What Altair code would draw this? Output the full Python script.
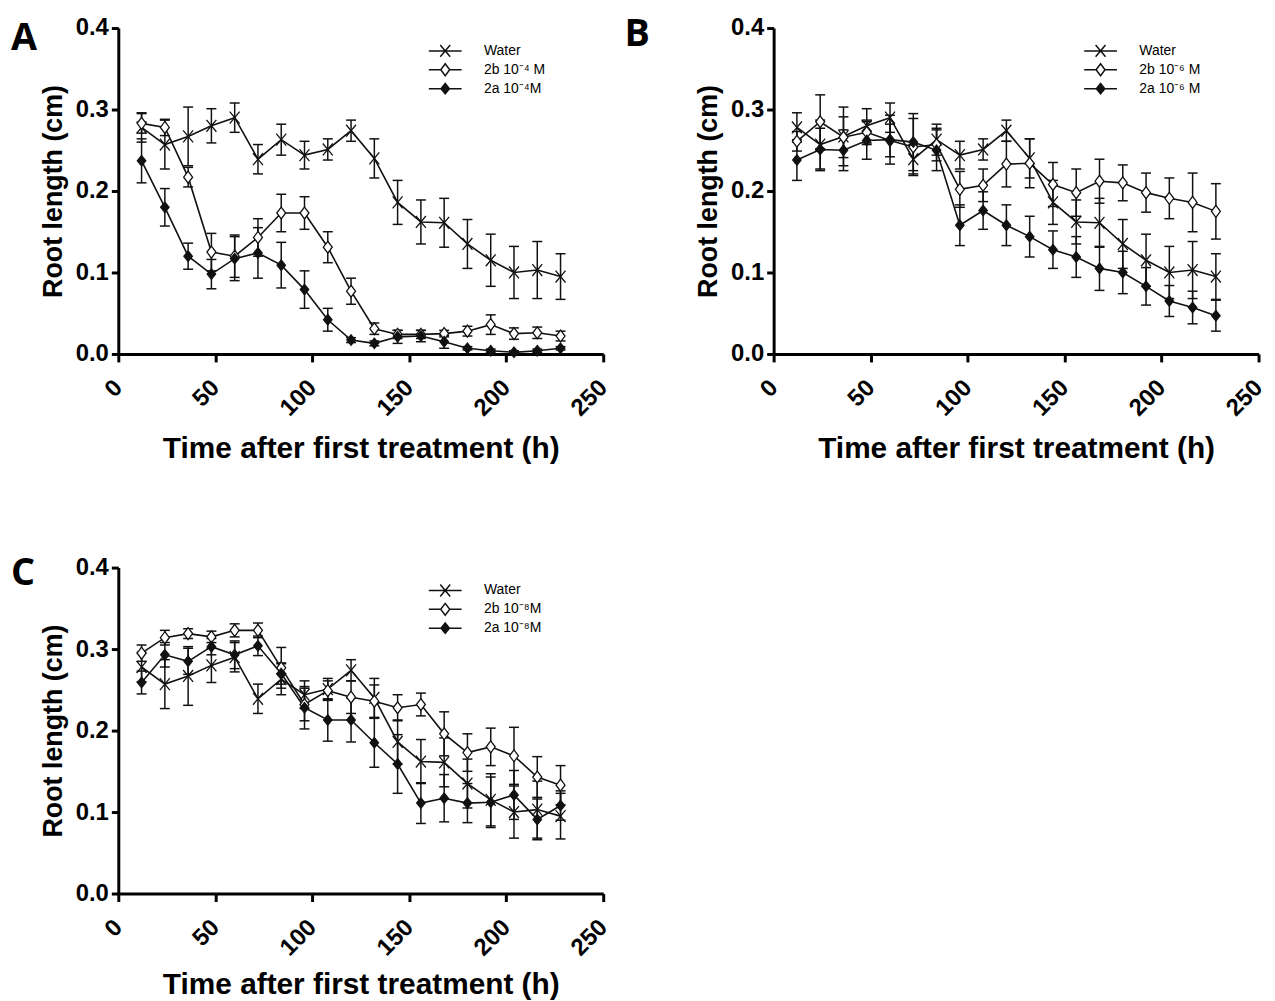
import altair as alt
import pandas as pd

# ---------------- data ----------------
hours = [12, 24, 36, 48, 60, 72, 84, 96, 108, 120, 132, 144, 156, 168, 180, 192, 204, 216, 228]

water_mean = [0.278, 0.257, 0.267, 0.280, 0.290, 0.239, 0.263, 0.244, 0.251, 0.274,
              0.240, 0.186, 0.162, 0.161, 0.135, 0.115, 0.100, 0.103, 0.095]
water_sem = [0.018, 0.030, 0.036, 0.021, 0.018, 0.018, 0.019, 0.017, 0.013, 0.013,
             0.024, 0.027, 0.027, 0.030, 0.030, 0.032, 0.032, 0.035, 0.028]

a_2b_mean = [0.283, 0.278, 0.217, 0.125, 0.120, 0.143, 0.173, 0.173, 0.131, 0.077,
             0.031, 0.024, 0.024, 0.025, 0.028, 0.036, 0.025, 0.026, 0.022]
a_2b_sem = [0.012, 0.010, 0.012, 0.023, 0.026, 0.023, 0.023, 0.020, 0.019, 0.016,
            0.007, 0.005, 0.005, 0.004, 0.006, 0.012, 0.007, 0.007, 0.006]
a_2a_mean = [0.237, 0.180, 0.120, 0.098, 0.117, 0.124, 0.109, 0.079, 0.042, 0.017,
             0.013, 0.021, 0.022, 0.015, 0.007, 0.004, 0.002, 0.004, 0.007]
a_2a_sem = [0.027, 0.023, 0.016, 0.018, 0.027, 0.031, 0.028, 0.023, 0.014, 0.003,
            0.003, 0.008, 0.007, 0.008, 0.002, 0.002, 0.002, 0.002, 0.002]

b_2b_mean = [0.261, 0.285, 0.266, 0.272, 0.262, 0.254, 0.257, 0.202, 0.207, 0.233,
             0.234, 0.208, 0.198, 0.212, 0.210, 0.198, 0.191, 0.186, 0.175]
b_2b_sem = [0.012, 0.033, 0.025, 0.015, 0.020, 0.035, 0.020, 0.022, 0.020, 0.028,
            0.030, 0.027, 0.029, 0.027, 0.022, 0.024, 0.025, 0.036, 0.034]
b_2a_mean = [0.238, 0.251, 0.250, 0.262, 0.263, 0.260, 0.250, 0.158, 0.176, 0.158,
             0.144, 0.128, 0.119, 0.105, 0.100, 0.083, 0.065, 0.057, 0.047]
b_2a_sem = [0.025, 0.026, 0.025, 0.023, 0.030, 0.035, 0.025, 0.025, 0.023, 0.025,
            0.025, 0.023, 0.025, 0.027, 0.026, 0.023, 0.019, 0.020, 0.019]

c_2b_mean = [0.295, 0.314, 0.319, 0.315, 0.323, 0.323, 0.277, 0.232, 0.249, 0.241,
             0.236, 0.228, 0.232, 0.196, 0.173, 0.180, 0.169, 0.143, 0.133]
c_2b_sem = [0.010, 0.009, 0.006, 0.007, 0.008, 0.009, 0.025, 0.020, 0.012, 0.020,
            0.020, 0.016, 0.014, 0.027, 0.023, 0.023, 0.035, 0.025, 0.024]
c_2a_mean = [0.259, 0.293, 0.285, 0.303, 0.293, 0.304, 0.270, 0.228, 0.213, 0.213,
             0.185, 0.159, 0.111, 0.117, 0.111, 0.112, 0.121, 0.091, 0.108]
c_2a_sem = [0.014, 0.015, 0.016, 0.010, 0.017, 0.012, 0.013, 0.026, 0.026, 0.027,
            0.030, 0.036, 0.025, 0.029, 0.024, 0.031, 0.030, 0.025, 0.018]

labels_a = ["Water", "2b 10\u207b\u2074 M", "2a 10\u207b\u2074M"]
labels_b = ["Water", "2b 10\u207b\u2076 M", "2a 10\u207b\u2076 M"]
labels_c = ["Water", "2b 10\u207b\u2078M", "2a 10\u207b\u2078M"]

x_ticks = [0, 50, 100, 150, 200, 250]
y_ticks = [0.0, 0.1, 0.2, 0.3, 0.4]

# ---------------- styling ----------------
INK = "#111111"
CROSS = "M-1,-1.2L1,1.2M-1,1.2L1,-1.2"
DIAMOND_OPEN = "M0,-1.2L0.9,0L0,1.2L-0.9,0Z"
DIAMOND_FILLED = "M0,-1.05L0.85,0L0,1.05L-0.85,0Z"
CAP = "M-1,0L1,0"
FONT = "Liberation Sans"

# legend glyphs: a line with the marker (stroke only, inner hatching = solid fill)
LEG_LINE_FULL = "M-3.3,0L3.3,0"
LEG_LINE_SPLIT_OPEN = "M-3.3,0L-0.9,0M0.9,0L3.3,0"
LEG_LINE_SPLIT_FILLED = "M-3.3,0L-0.85,0M0.85,0L3.3,0"
_hatch = []
for _k in range(-5, 6):
    _y = _k * 0.19
    _w = 0.85 * (1 - abs(_y) / 1.05)
    if _w > 0.05:
        _hatch.append(f"M{-_w:.3f},{_y:.3f}L{_w:.3f},{_y:.3f}")
LEG_CROSS = LEG_LINE_FULL + CROSS
LEG_OPEN = LEG_LINE_SPLIT_OPEN + DIAMOND_OPEN
LEG_FILLED = LEG_LINE_SPLIT_FILLED + DIAMOND_FILLED + "".join(_hatch)

X_TITLE = "Time after first treatment (h)"
Y_TITLE = "Root length (cm)"
PANEL_W = 488
PANEL_H = 328


def make_panel(letter, labels, means, sems, letter_x, letter_y, x_title_pad=13):
    rows = []
    for lab, m, s in zip(labels, means, sems):
        for t, mv, sv in zip(hours, m, s):
            rows.append({"t": t, "mean": mv, "lo": mv - sv, "hi": mv + sv, "series": lab})
    df = pd.DataFrame(rows)

    xscale = alt.Scale(domain=[0, 250], nice=False, zero=False)
    yscale = alt.Scale(domain=[0, 0.4], nice=False)
    xaxis = alt.Axis(values=x_ticks, labelAngle=-45, labelAlign="right",
                     labelBaseline="middle", labelPadding=22, tickSize=8,
                     titlePadding=x_title_pad, labelOverlap=False, labelFlush=False)
    yaxis = alt.Axis(values=y_ticks, format=".1f", labelPadding=3, tickSize=7,
                     titlePadding=8, labelOverlap=False, labelFlush=False)

    def X(field):
        return alt.X(field, scale=xscale, axis=xaxis, title=X_TITLE)

    def Y(field):
        return alt.Y(field, scale=yscale, axis=yaxis, title=Y_TITLE)

    base = alt.Chart(df)
    lines = base.mark_line(color=INK, strokeWidth=1.6).encode(
        x=X("t:Q"), y=Y("mean:Q"), detail="series:N")
    bars = base.mark_rule(color=INK, strokeWidth=1.5).encode(
        x=X("t:Q"), y=Y("lo:Q"), y2="hi:Q")
    caps_lo = base.mark_point(shape=CAP, size=100, filled=False, color=INK,
                              strokeWidth=1.5, opacity=1).encode(x=X("t:Q"), y=Y("lo:Q"))
    caps_hi = base.mark_point(shape=CAP, size=100, filled=False, color=INK,
                              strokeWidth=1.5, opacity=1).encode(x=X("t:Q"), y=Y("hi:Q"))
    pts = base.mark_point(filled=True, size=100, stroke=INK, strokeWidth=1.3,
                          opacity=1).encode(
        x=X("t:Q"), y=Y("mean:Q"),
        shape=alt.Shape("series:N", legend=None,
                        scale=alt.Scale(domain=labels,
                                        range=[CROSS, DIAMOND_OPEN, DIAMOND_FILLED])),
        fill=alt.Fill("series:N", legend=None,
                      scale=alt.Scale(domain=labels, range=["white", "white", INK])),
    )

    legend_layer = base.transform_filter("false").mark_point(
        filled=False, size=100, color=INK, strokeWidth=1.5, opacity=1
    ).encode(
        shape=alt.Shape(
            "series:N",
            scale=alt.Scale(domain=labels, range=[LEG_CROSS, LEG_OPEN, LEG_FILLED]),
            legend=alt.Legend(
                title=None, orient="none", legendX=322, legendY=16,
                labelFont=FONT, labelFontSize=14, labelFontWeight="normal",
                labelColor="black", symbolSize=100, symbolStrokeWidth=1.5,
                symbolStrokeColor=INK, symbolOpacity=1, labelOffset=32,
                rowPadding=1, padding=0,
            ),
        ),
    )

    letter_layer = alt.Chart(pd.DataFrame({"panel": [letter]})).mark_text(
        font="Open Sans", fontWeight="bold", fontSize=38, align="left",
        baseline="top", color="black"
    ).encode(text="panel:N", x=alt.value(letter_x), y=alt.value(letter_y))

    return alt.layer(lines, bars, caps_lo, caps_hi, pts, legend_layer, letter_layer).resolve_scale(
        shape="independent", fill="independent"
    ).properties(width=PANEL_W, height=PANEL_H)


panel_a = make_panel("A", labels_a, [water_mean, a_2b_mean, a_2a_mean],
                     [water_sem, a_2b_sem, a_2a_sem], -108, -8)
panel_b = make_panel("B", labels_b, [water_mean, b_2b_mean, b_2a_mean],
                     [water_sem, b_2b_sem, b_2a_sem], -150, -12)
panel_c = make_panel("C", labels_c, [water_mean, c_2b_mean, c_2a_mean],
                     [water_sem, c_2b_sem, c_2a_sem], -108, -12, x_title_pad=10)

chart = alt.concat(
    panel_a, panel_b, panel_c, columns=2, align="each",
    spacing={"row": 93, "column": 12.5},
).resolve_scale(
    shape="independent", fill="independent"
).resolve_legend(
    shape="independent", fill="independent"
).configure_view(stroke=None).configure_axis(
    domainColor="black", domainWidth=3, tickColor="black", tickWidth=3,
    labelFont=FONT, labelFontSize=24, labelFontWeight="bold", labelColor="black",
    titleFont=FONT, titleFontWeight="bold", titleColor="black",
    grid=False,
).configure_axisX(titleFontSize=30).configure_axisY(titleFontSize=27).properties(
    background="white", padding={"left": 3, "right": 0, "top": 5, "bottom": 0})

chart.save("out.html", embed_options={"renderer": "svg", "actions": False})
